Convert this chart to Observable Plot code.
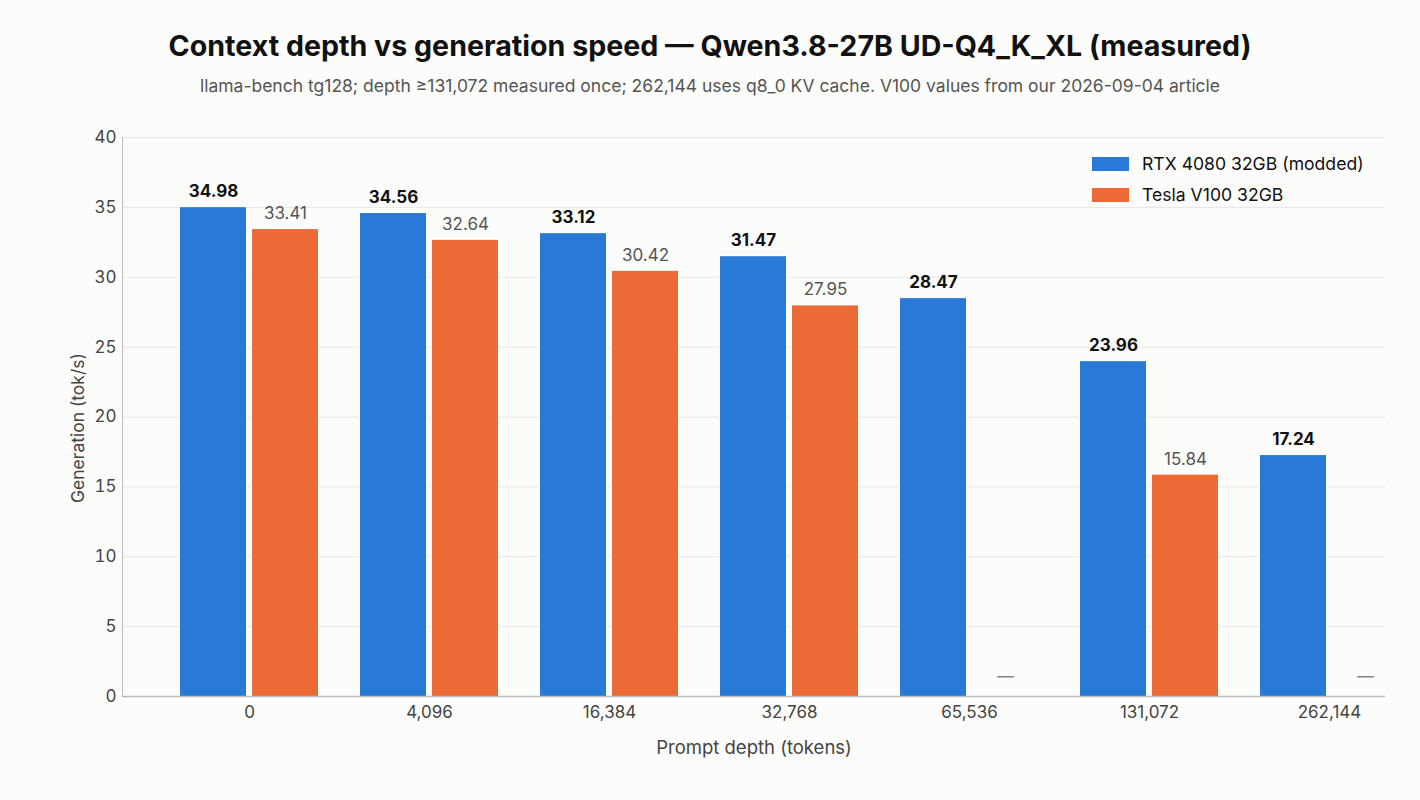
<!DOCTYPE html>
<html>
<head>
<meta charset="utf-8">
<script src="https://cdn.jsdelivr.net/npm/d3@7"></script>
<script src="https://cdn.jsdelivr.net/npm/@observablehq/plot@0.6"></script>
<style>
  html, body { margin: 0; padding: 0; background: #fcfcfa; }
  #wrap { position: relative; width: 1420px; height: 800px; font-family: Inter, "Noto Sans", sans-serif; }
  #title { position: absolute; left: 0; top: 28px; width: 1420px; text-align: center; font-size: 28.6px; font-weight: 700; line-height: 36px; color: #111; }
  #subtitle { position: absolute; left: 0; top: 74px; width: 1420px; text-align: center; font-size: 17.5px; line-height: 24px; color: #555; }
  #chart { position: absolute; left: 0; top: 110px; }
  #legend { position: absolute; left: 1092px; top: 148px; font-size: 17.6px; color: #111; }
  .item { display: flex; align-items: center; height: 31px; }
  .sw { width: 37px; height: 14px; margin-right: 13px; }
</style>
</head>
<body>
<div id="wrap">
  <div id="title"></div>
  <div id="subtitle"></div>
  <div id="chart"></div>
  <div id="legend"></div>
</div>
<script>
const titleText = "Context depth vs generation speed — Qwen3.8-27B UD-Q4_K_XL (measured)";
const subtitleText = "llama-bench tg128; depth ≥131,072 measured once; 262,144 uses q8_0 KV cache. V100 values from our 2026-09-04 article";
const depths = ["0", "4,096", "16,384", "32,768", "65,536", "131,072", "262,144"];
const seriesNames = ["RTX 4080 32GB (modded)", "Tesla V100 32GB"];
const seriesColors = ["#2979d6", "#ec6a36"];
const rtx = [34.98, 34.56, 33.12, 31.47, 28.47, 23.96, 17.24];
const v100 = [33.41, 32.64, 30.42, 27.95, null, 15.84, null];
const yTicks = [0, 5, 10, 15, 20, 25, 30, 35, 40];
const xLabel = "Prompt depth (tokens)";
const yLabel = "Generation (tok/s)";

document.getElementById("title").textContent = titleText;
document.getElementById("subtitle").textContent = subtitleText;
const legend = document.getElementById("legend");
seriesNames.forEach((n, i) => {
  const it = document.createElement("div"); it.className = "item";
  const sw = document.createElement("div"); sw.className = "sw"; sw.style.background = seriesColors[i];
  const t = document.createElement("span"); t.textContent = n;
  it.appendChild(sw); it.appendChild(t); legend.appendChild(it);
});

const rtxData = depths.map((d, i) => ({depth: d, value: rtx[i]}));
const v100Data = depths.map((d, i) => ({depth: d, value: v100[i]})).filter(d => d.value != null);
const missing = depths.map((d, i) => ({depth: d, value: v100[i]})).filter(d => d.value == null);
const fmt = d3.format(".2f");

const chart = Plot.plot({
  width: 1420,
  height: 690,
  marginLeft: 122,
  marginRight: 35,
  marginTop: 27,
  marginBottom: 104,
  style: {fontFamily: "Inter, 'Noto Sans', sans-serif", fontSize: "17px", background: "transparent", color: "#444"},
  x: {domain: depths, range: [180, 1398], paddingInner: 42 / 180, paddingOuter: 0, label: null},
  y: {domain: [0, 40], label: null},
  marks: [
    Plot.gridY(yTicks, {stroke: "#e6e6e6", strokeOpacity: 1}),
    Plot.axisY(yTicks, {tickSize: 0, tickPadding: 6, fontSize: 17, fill: "#444", label: null}),
    Plot.axisX({tickSize: 0, tickPadding: 9, fontSize: 17, fill: "#444", label: null}),
    Plot.frame({anchor: "left", stroke: "#bbbbbb"}),
    Plot.barY(rtxData, {x: "depth", y: "value", fill: seriesColors[0], insetRight: 72, stroke: "#ffffff", strokeWidth: 2, paintOrder: "stroke"}),
    Plot.barY(v100Data, {x: "depth", y: "value", fill: seriesColors[1], insetLeft: 72, stroke: "#ffffff", strokeWidth: 2, paintOrder: "stroke"}),
    Plot.ruleY([0], {stroke: "#bbbbbb", strokeWidth: 1.3}),
    Plot.text(rtxData, {x: "depth", y: "value", text: d => fmt(d.value), dx: -36, dy: -16, fontWeight: 700, fill: "#111", fontSize: 17}),
    Plot.text(v100Data, {x: "depth", y: "value", text: d => fmt(d.value), dx: 36, dy: -16, fill: "#555", fontSize: 17}),
    Plot.text(missing, {x: "depth", y: () => 0, text: () => "—", dx: 36, dy: -20, fill: "#888", fontSize: 17}),
    Plot.text([yLabel], {frameAnchor: "left", textAnchor: "start", lineAnchor: "middle", dx: -44, dy: 86, rotate: -90, fill: "#444", fontSize: 17.5}),
    Plot.text([xLabel], {frameAnchor: "bottom", lineAnchor: "middle", dy: 52, fill: "#444", fontSize: 18.5})
  ]
});
document.getElementById("chart").appendChild(chart);
</script>
</body>
</html>
